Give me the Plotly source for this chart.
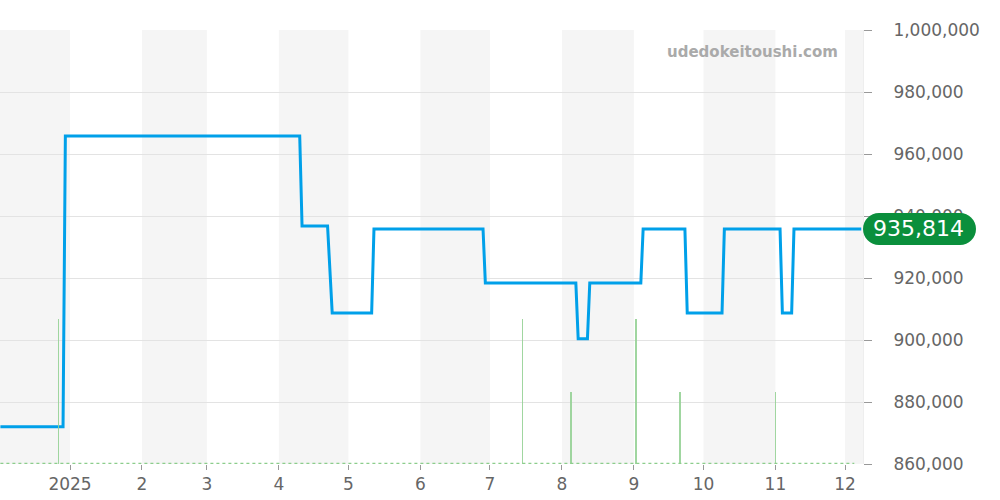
import plotly.graph_objects as go

# ---- data ----
price_dates = ["2024-12-02", "2024-12-29", "2024-12-30", "2025-04-10", "2025-04-11",
               "2025-04-22", "2025-04-24", "2025-05-11", "2025-05-12", "2025-06-28",
               "2025-06-29", "2025-08-07", "2025-08-08", "2025-08-12", "2025-08-13",
               "2025-09-04", "2025-09-05", "2025-09-23", "2025-09-24", "2025-10-09",
               "2025-10-10", "2025-11-03", "2025-11-04", "2025-11-08", "2025-11-09",
               "2025-12-08"]
price_values = [872000, 872000, 965800, 965800, 936800,
                936800, 908700, 908700, 935814, 935814,
                918400, 918400, 900400, 900400, 918400,
                918400, 935814, 935814, 908700, 908700,
                935814, 935814, 908700, 908700, 935814,
                935814]

volume_dates = ["2024-12-27", "2025-07-15", "2025-08-05", "2025-09-02", "2025-09-21", "2025-11-01"]
volume_values = [2, 2, 1, 2, 1, 1]
baseline_dates = ["2024-12-02", "2025-12-05"]
baseline_values = [0, 0]

tick_dates = ["2025-01-01", "2025-02-01", "2025-03-01", "2025-04-01", "2025-05-01",
              "2025-06-01", "2025-07-01", "2025-08-01", "2025-09-01", "2025-10-01",
              "2025-11-01", "2025-12-01"]
tick_labels = ["2025", "2", "3", "4", "5", "6", "7", "8", "9", "10", "11", "12"]

band_starts = ["2024-12-01 20:00", "2025-02-01", "2025-04-01", "2025-06-01", "2025-08-01", "2025-10-01", "2025-12-01"]
band_ends = ["2025-01-01", "2025-03-01", "2025-05-01", "2025-07-01", "2025-09-01", "2025-11-01", "2025-12-08 18:00"]

x_range = ["2024-12-01 20:00", "2025-12-08 18:00"]
watermark = "udedokeitoushi.com"

FONT = "DejaVu Sans"
GREEN_BAR = "rgba(150,210,150,0.9)"
GREEN_BASE = "rgb(140,205,140)"
BLUE = "#00a0e9"
BADGE = "#0a8f3c"

fig = go.Figure()

fig.add_trace(go.Bar(x=volume_dates, y=volume_values, yaxis="y2",
                     marker=dict(color=GREEN_BAR, line=dict(width=0)),
                     width=65000000, hoverinfo="skip", showlegend=False))
fig.add_trace(go.Scatter(x=baseline_dates, y=baseline_values, yaxis="y2", mode="lines",
                         line=dict(color=GREEN_BASE, width=2.5, dash="dot"),
                         hoverinfo="skip", showlegend=False, cliponaxis=False))
fig.add_trace(go.Scatter(x=price_dates, y=price_values, mode="lines",
                         line=dict(color=BLUE, width=3), showlegend=False))

shapes = []
for s, e in zip(band_starts, band_ends):
    shapes.append(dict(type="rect", xref="x", yref="paper", x0=s, x1=e, y0=0, y1=1,
                       fillcolor="#f5f5f5", line=dict(width=0), layer="below"))

# rounded badge for the last value
r = 16
w = 113
k = 0.5523 * r
path = (f"M {r},{-r} L {w - r},{-r} C {w - r + k},{-r} {w},{-k} {w},0 "
        f"C {w},{k} {w - r + k},{r} {w - r},{r} L {r},{r} "
        f"C {r - k},{r} 0,{k} 0,0 C 0,{-k} {r - k},{-r} {r},{-r} Z")
last_value = price_values[-1]
shapes.append(dict(type="path", xref="paper", yref="y", xsizemode="pixel", ysizemode="pixel",
                   xanchor=1.0, yanchor=last_value, path=path,
                   fillcolor=BADGE, line=dict(width=0), layer="above"))

annotations = [
    dict(text=f"{last_value:,}", xref="paper", yref="y", x=1.0, y=last_value,
         xanchor="center", yanchor="middle", xshift=w / 2 - 1, showarrow=False,
         font=dict(family=FONT, size=22, color="white")),
    dict(text=f"<b>{watermark}</b>", xref="paper", yref="paper", x=840 / 863, y=(463 - 52) / 433,
         xanchor="right", yanchor="middle", showarrow=False,
         font=dict(family=FONT, size=15, color="#aaaaaa")),
]

fig.update_layout(
    width=1000, height=500,
    margin=dict(l=0, r=137, t=30, b=36),
    paper_bgcolor="white", plot_bgcolor="white",
    font=dict(family=FONT, size=17, color="#666666"),
    shapes=shapes, annotations=annotations,
    bargap=0,
    xaxis=dict(type="date", range=x_range, tickvals=tick_dates, ticktext=tick_labels,
               showgrid=False, zeroline=False, ticks="outside", ticklen=5,
               tickcolor="#999999", tickfont=dict(size=17, color="#666666"),
               showline=False),
    yaxis=dict(side="right", range=[860000, 1000000], dtick=20000, tickformat=",",
               showgrid=True, gridcolor="#e3e3e3", gridwidth=1, zeroline=False,
               ticks="outside", ticklen=8, tickcolor="#999999",
               ticklabelstandoff=18,
               tickfont=dict(size=17, color="#666666"),
               showline=True, linecolor="#eeeeee", linewidth=1),
    yaxis2=dict(overlaying="y", range=[0, 6], visible=False, fixedrange=True),
)

fig.write_html("out.html", config={"displayModeBar": False},
               post_script="document.body.style.margin='0';document.body.style.overflow='hidden';")
